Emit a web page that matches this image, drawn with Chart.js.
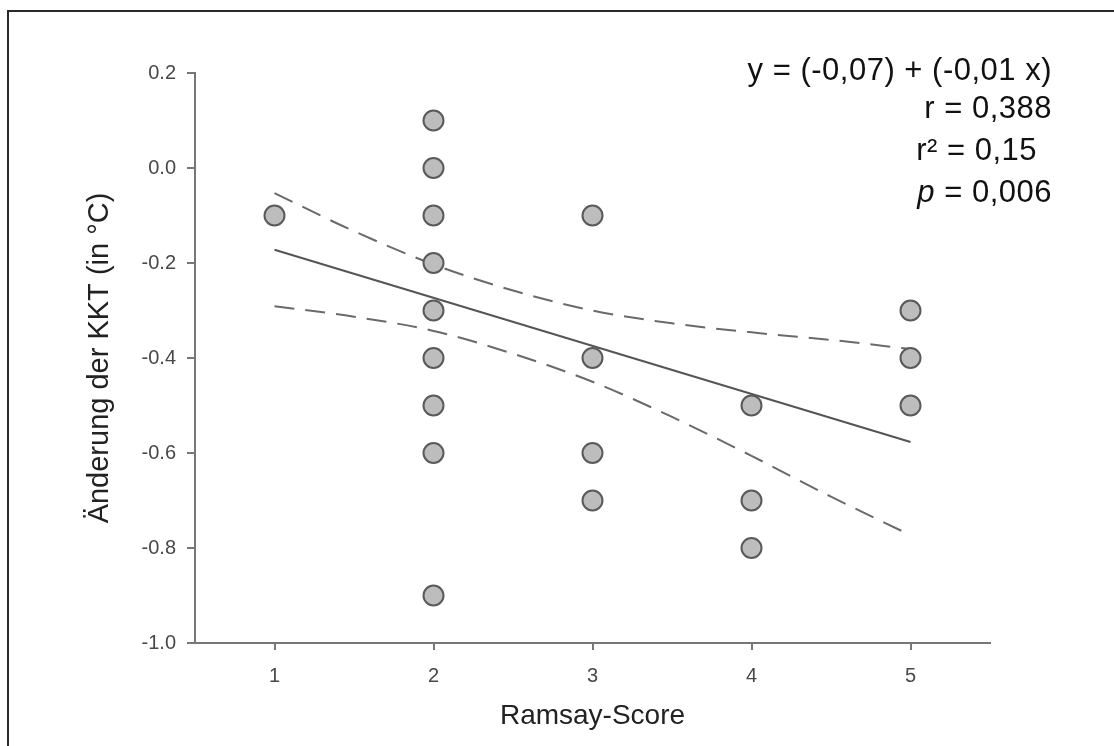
<!DOCTYPE html>
<html>
<head>
<meta charset="utf-8">
<script src="https://cdn.jsdelivr.net/npm/chart.js@4"></script>
<style>
  html, body { margin: 0; padding: 0; background: #fff; overflow: hidden; }
  #frame { position: absolute; left: 7px; top: 10px; width: 1200px; height: 800px; border: 2px solid #2a2a2a; }
  #myChart { position: absolute; left: 0; top: 0; }
</style>
</head>
<body>
<div id="frame"></div>
<canvas id="myChart" width="1114" height="746"></canvas>
<script>
// Ramsay-Score vs. Änderung der KKT
const ramsay = [1, 2, 2, 2, 2, 2, 2, 2, 2, 2, 3, 3, 3, 3, 4, 4, 4, 5, 5, 5];
const kktChange = [-0.1, 0.1, 0.0, -0.1, -0.2, -0.3, -0.4, -0.5, -0.6, -0.9, -0.1, -0.4, -0.6, -0.7, -0.5, -0.7, -0.8, -0.3, -0.4, -0.5];

// Regressionsgerade + Konfidenzband
const fitX = [1, 5];
const fitY = [-0.172, -0.577];
const bandX = [1, 1.5, 2, 2.5, 3, 3.5, 4, 4.5, 5];
const bandUpper = [-0.053, -0.133, -0.203, -0.258, -0.300, -0.327, -0.346, -0.362, -0.381];
const bandLower = [-0.291, -0.313, -0.343, -0.391, -0.450, -0.524, -0.606, -0.692, -0.773];

const xTicks = [1, 2, 3, 4, 5];
const yTicks = [0.2, 0.0, -0.2, -0.4, -0.6, -0.8, -1.0];

const statLines = ['y = (-0,07) + (-0,01 x)', 'r = 0,388', 'r² = 0,15', '= 0,006'];

const toXY = (xs, ys) => xs.map((x, i) => ({ x: x, y: ys[i] }));

const statsPlugin = {
  id: 'stats',
  afterDraw(chart) {
    const ctx = chart.ctx;
    ctx.save();
    ctx.fillStyle = '#111';
    ctx.textAlign = 'right';
    ctx.textBaseline = 'alphabetic';
    ctx.letterSpacing = '0.5px';
    ctx.font = '31px "Liberation Sans", Arial, sans-serif';
    ctx.fillText(statLines[0], 1052, 80);
    ctx.fillText(statLines[1], 1052, 118);
    ctx.fillText(statLines[2], 1037, 160);
    let w = ctx.measureText(' ' + statLines[3]).width;
    ctx.fillText(' ' + statLines[3], 1052, 202);
    ctx.font = 'italic 31px "Liberation Sans", Arial, sans-serif';
    ctx.fillText('p', 1052 - w, 202);
    ctx.restore();
  }
};

const axisGray = '#777';

new Chart(document.getElementById('myChart'), {
  type: 'scatter',
  data: {
    datasets: [
      {
        label: 'Patienten',
        data: toXY(ramsay, kktChange),
        pointRadius: 10,
        pointBackgroundColor: '#bdbdbd',
        pointBorderColor: '#5a5a5a',
        pointBorderWidth: 2,
        showLine: false
      },
      {
        label: 'Regression',
        data: toXY(fitX, fitY),
        showLine: true,
        borderColor: '#555',
        borderWidth: 2,
        pointRadius: 0
      },
      {
        label: 'KI oben',
        data: toXY(bandX, bandUpper),
        showLine: true,
        borderColor: '#6a6a6a',
        borderWidth: 2,
        borderDash: [20, 11],
        cubicInterpolationMode: 'monotone',
        pointRadius: 0
      },
      {
        label: 'KI unten',
        data: toXY(bandX, bandLower),
        showLine: true,
        borderColor: '#6a6a6a',
        borderWidth: 2,
        borderDash: [20, 11],
        cubicInterpolationMode: 'monotone',
        pointRadius: 0
      }
    ]
  },
  options: {
    responsive: false,
    animation: false,
    devicePixelRatio: 1,
    layout: { padding: { left: 79, top: 73, right: 124, bottom: 9 } },
    plugins: {
      legend: { display: false },
      tooltip: { enabled: false }
    },
    scales: {
      x: {
        type: 'linear',
        min: 0.5,
        max: 5.5,
        afterBuildTicks: (scale) => { scale.ticks = xTicks.map(v => ({ value: v })); },
        afterFit: (scale) => { scale.height = 94; },
        grid: { drawOnChartArea: false, drawTicks: true, tickLength: 7, tickColor: axisGray, lineWidth: 2 },
        border: { color: axisGray, width: 2 },
        ticks: {
          padding: 14,
          color: '#484848',
          font: { family: '"Liberation Sans", Arial, sans-serif', size: 20 },
          callback: (v) => String(v)
        },
        title: {
          display: true,
          text: 'Ramsay-Score',
          color: '#222',
          font: { family: '"Liberation Sans", Arial, sans-serif', size: 28 },
          padding: { top: 4, bottom: 4 }
        }
      },
      y: {
        type: 'linear',
        min: -1.0,
        max: 0.2,
        afterBuildTicks: (scale) => { scale.ticks = yTicks.map(v => ({ value: v })); },
        afterFit: (scale) => { scale.width = 116; },
        grid: { drawOnChartArea: false, drawTicks: true, tickLength: 8, tickColor: axisGray, lineWidth: 2 },
        border: { color: axisGray, width: 2 },
        ticks: {
          padding: 11,
          color: '#484848',
          font: { family: '"Liberation Sans", Arial, sans-serif', size: 20 },
          callback: (v) => v.toFixed(1)
        },
        title: {
          display: true,
          text: 'Änderung der KKT (in °C)',
          color: '#222',
          font: { family: '"Liberation Sans", Arial, sans-serif', size: 29 },
          padding: { top: 4, bottom: 4 }
        }
      }
    }
  },
  plugins: [statsPlugin]
});
</script>
</body>
</html>
